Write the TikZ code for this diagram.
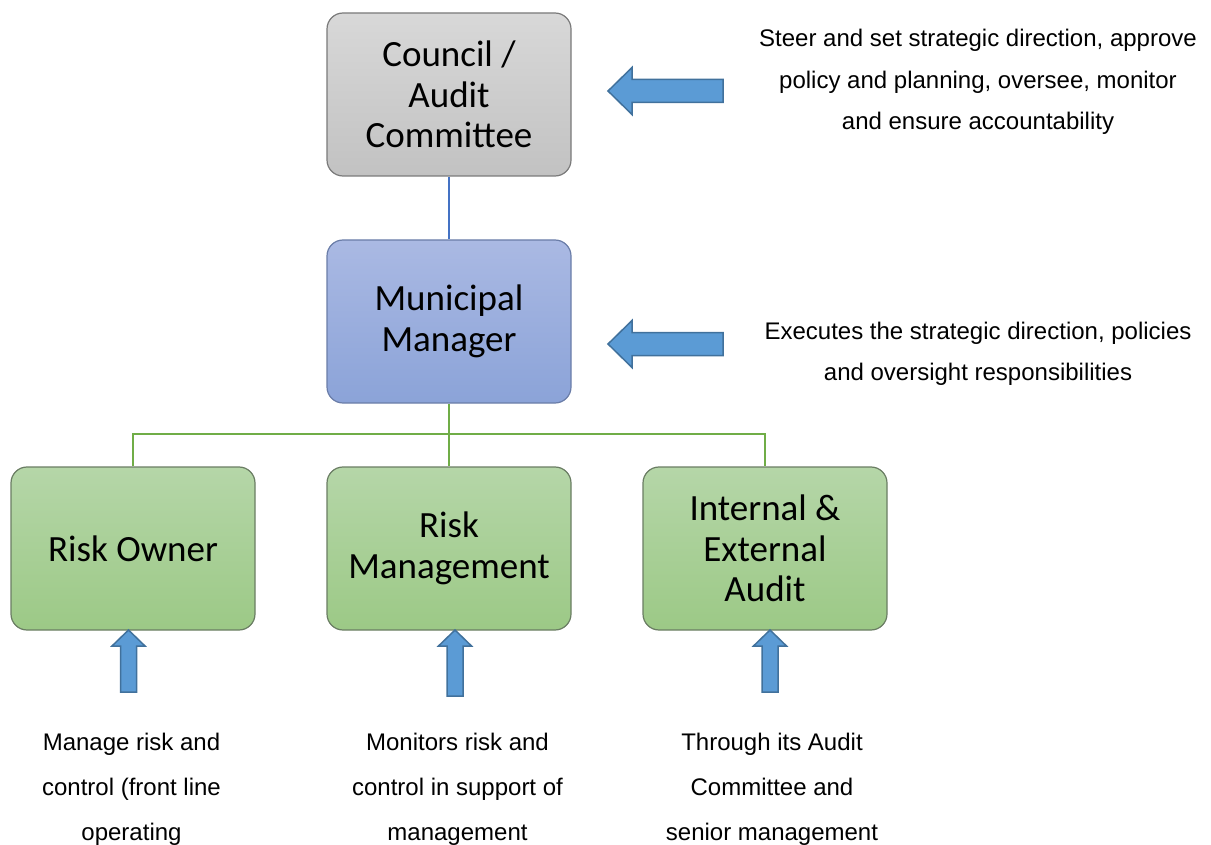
\documentclass[tikz,border=0pt]{standalone}
\usepackage{fontspec}
\setmainfont{Liberation Sans}
\newfontfamily\boxfont{Carlito}

\definecolor{grayTop}{HTML}{D8D8D8}
\definecolor{grayBot}{HTML}{C2C2C2}
\definecolor{grayEdge}{HTML}{7A7A7A}
\definecolor{blueTop}{HTML}{AAB9E3}
\definecolor{blueBot}{HTML}{8BA3D8}
\definecolor{blueEdge}{HTML}{6A7DA8}
\definecolor{greenTop}{HTML}{B5D6A8}
\definecolor{greenBot}{HTML}{9CC986}
\definecolor{greenEdge}{HTML}{6A7D63}
\definecolor{linkBlue}{HTML}{4472C4}
\definecolor{linkGreen}{HTML}{70AD47}
\definecolor{arrFill}{HTML}{5B9BD5}
\definecolor{arrEdge}{HTML}{41719C}

\tikzset{
  orgbox/.style={rounded corners=16pt, minimum width=244pt, minimum height=163pt,
    align=center, line width=1.2pt, inner sep=0pt,
    font=\boxfont\fontsize{37}{40.5}\selectfont},
  graybox/.style={orgbox, draw=grayEdge, top color=grayTop, bottom color=grayBot},
  bluebox/.style={orgbox, draw=blueEdge, top color=blueTop, bottom color=blueBot},
  greenbox/.style={orgbox, draw=greenEdge, top color=greenTop, bottom color=greenBot},
  sidenote/.style={align=center, inner sep=0pt, font=\fontsize{24}{41.5}\selectfont},
  footnote/.style={align=center, inner sep=0pt, font=\fontsize{24}{45}\selectfont},
  bluelink/.style={draw=linkBlue, line width=2pt},
  greenlink/.style={draw=linkGreen, line width=2pt},
  blockarrow/.style={fill=arrFill, draw=arrEdge, line width=1.5pt, line join=miter},
}

\begin{document}
\begin{tikzpicture}[x=1pt, y=-1pt]
  \useasboundingbox (0,0) rectangle (1211,845);

  % hierarchy boxes
  \node[graybox]  (council) at (449,94.5)  {Council /\\Audit\\Committee};
  \node[bluebox]  (mm)      at (449,321.5) {Municipal\\Manager};
  \node[greenbox] (ro)      at (133,548.5) {Risk Owner};
  \node[greenbox] (rm)      at (449,548.5) {Risk\\Management};
  \node[greenbox] (ia)      at (765,548.5) {Internal \&\\External\\Audit};

  % reporting lines
  \coordinate (bus) at (449,434);
  \draw[bluelink] (council.south) -- (mm.north);
  \draw[greenlink] (mm.south) -- (rm.north);
  \draw[greenlink] (ro.north) |- (bus) -| (ia.north);

  % descriptions on the right
  \node[sidenote] (councilNote) at (978,82)
    {Steer and set strategic direction, approve\\policy and planning, oversee, monitor\\and ensure accountability};
  \node[sidenote] (mmNote) at (978,354)
    {Executes the strategic direction, policies\\and oversight responsibilities};

  % descriptions below
  \node[footnote] (roNote) at (131.5,789) {Manage risk and\\control (front line\\operating};
  \node[footnote] (rmNote) at (457.5,789) {Monitors risk and\\control in support of\\management};
  \node[footnote] (iaNote) at (772,789) {Through its Audit\\Committee and\\senior management};

  % left-pointing block arrows
  \coordinate (councilTip) at (608,91);
  \coordinate (mmTip) at (608,344);
  \foreach \t in {councilTip, mmTip}
    \draw[blockarrow] (\t) -- ++(24,-23.5) -- ++(0,12) -- ++(91,0) -- ++(0,23)
      -- ++(-91,0) -- ++(0,12) -- cycle;

  % upward block arrows
  \coordinate (roTip) at (128.5,630);
  \coordinate (rmTip) at (455,630);
  \coordinate (iaTip) at (770,630);
  \draw[blockarrow] (roTip) -- ++(16.5,16) -- ++(-8.5,0) -- ++(0,46) -- ++(-16,0)
    -- ++(0,-46) -- ++(-8.5,0) -- cycle;
  \draw[blockarrow] (rmTip) -- ++(16.5,16) -- ++(-8.5,0) -- ++(0,50) -- ++(-16,0)
    -- ++(0,-50) -- ++(-8.5,0) -- cycle;
  \draw[blockarrow] (iaTip) -- ++(16.5,16) -- ++(-8.5,0) -- ++(0,46) -- ++(-16,0)
    -- ++(0,-46) -- ++(-8.5,0) -- cycle;
\end{tikzpicture}
\end{document}
